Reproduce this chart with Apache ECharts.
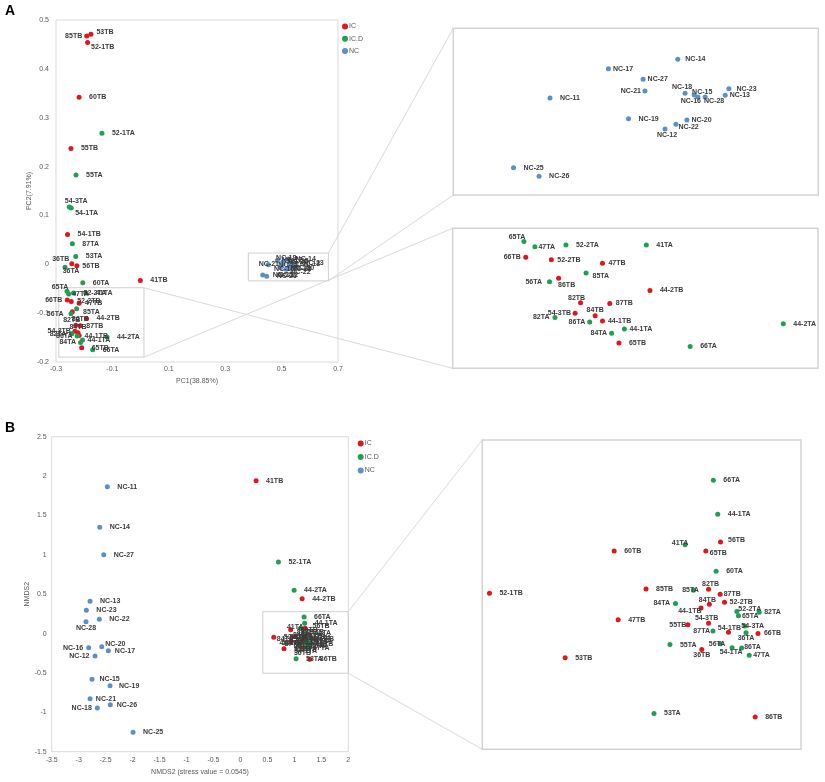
<!DOCTYPE html>
<html><head><meta charset="utf-8">
<script src="https://cdn.jsdelivr.net/npm/echarts@6/dist/echarts.min.js"></script>
<style>html,body{margin:0;padding:0;background:#fff}#c{width:825px;height:782px}</style>
</head><body><div id="c"></div>
<script>
// ---------------- DATA ----------------
const groups = ['IC', 'IC.D', 'NC'];

const icNames = ['85TB','53TB','52-1TB','60TB','55TB','54-1TB','36TB','56TB','41TB','66TB','52-2TB','47TB','86TB','44-2TB','82TB','87TB','54-3TB','84TB','44-1TB','65TB'];
const icPC1 = [-0.191,-0.176,-0.188,-0.218,-0.247,-0.259,-0.244,-0.226,-0.001,-0.260,-0.246,-0.218,-0.242,-0.192,-0.230,-0.214,-0.233,-0.222,-0.218,-0.209];
const icPC2 = [0.467,0.471,0.454,0.342,0.237,0.061,0.001,-0.003,-0.033,-0.073,-0.076,-0.080,-0.097,-0.111,-0.125,-0.126,-0.137,-0.140,-0.146,-0.171];
const icNMDS1 = [1.011,0.808,0.618,0.931,1.116,1.218,1.151,1.198,0.290,1.292,1.208,0.941,1.285,1.144,1.168,1.197,1.168,1.170,1.149,1.161];
const icNMDS2 = [-0.037,-0.193,-0.047,0.049,-0.118,-0.135,-0.174,0.069,1.941,-0.138,-0.067,-0.107,-0.327,0.443,-0.038,-0.049,-0.115,-0.072,-0.080,0.049];

const icdNames = ['52-1TA','55TA','54-3TA','54-1TA','87TA','53TA','36TA','60TA','65TA','47TA','52-2TA','41TA','85TA','56TA','82TA','86TA','44-2TA','44-1TA','84TA','66TA'];
const icdPC1 = [-0.137,-0.229,-0.253,-0.246,-0.242,-0.230,-0.268,-0.205,-0.261,-0.255,-0.238,-0.194,-0.227,-0.247,-0.244,-0.225,-0.119,-0.206,-0.213,-0.170];
const icdPC2 = [0.268,0.183,0.117,0.115,0.042,0.016,-0.006,-0.038,-0.055,-0.061,-0.059,-0.059,-0.091,-0.101,-0.142,-0.147,-0.149,-0.155,-0.160,-0.175];
const icdNMDS1 = [0.704,1.071,1.259,1.227,1.179,1.031,1.262,1.187,1.243,1.270,1.239,1.109,1.130,1.197,1.295,1.251,0.995,1.191,1.085,1.180];
const icdNMDS2 = [0.909,-0.163,-0.121,-0.170,-0.132,-0.319,-0.136,0.003,-0.098,-0.187,-0.088,0.063,-0.040,-0.161,-0.090,-0.171,0.550,0.132,-0.070,0.209];

const ncNames = ['NC-11','NC-12','NC-13','NC-14','NC-15','NC-16','NC-17','NC-18','NC-19','NC-20','NC-21','NC-22','NC-23','NC-25','NC-26','NC-27','NC-28'];
const ncPC1 = [0.453,0.516,0.549,0.523,0.532,0.534,0.485,0.527,0.496,0.528,0.505,0.522,0.551,0.433,0.447,0.504,0.538];
const ncPC2 = [-0.0009,-0.0102,-0.0001,0.0107,0.0000,-0.0006,0.0079,0.0005,-0.0071,-0.0075,0.0012,-0.0088,0.0019,-0.0218,-0.0244,0.0047,-0.0006];
const ncNMDS1 = [-2.468,-2.697,-2.789,-2.609,-2.752,-2.814,-2.450,-2.654,-2.418,-2.572,-2.789,-2.617,-2.858,-1.992,-2.413,-2.535,-2.864];
const ncNMDS2 = [1.865,-0.285,0.410,1.350,-0.581,-0.179,-0.218,-0.945,-0.662,-0.167,-0.827,0.181,0.295,-1.254,-0.903,1.002,0.151];

// axis ranges (value space)
const axisA = {x:[-0.3, 0.7, 0.2], y:[-0.2, 0.5, 0.1]};
const axisB = {x:[-3.5, 2, 0.5], y:[-1.5, 2.5, 0.5]};
const insetA_NC = {x:[0.4, 0.6], y:[-0.03, 0.02]};
const insetA_IC = {x:[-0.3, -0.1], y:[-0.2, -0.04]};
const insetB = {x:[0.6, 1.4], y:[-0.4, 0.3]};
// zoom boxes drawn in the main plots (value space corners)
const boxA_NC = [[0.382, 0.023], [0.666, -0.034]];
const boxA_IC = [[-0.290, -0.048], [0.012, -0.190]];
const boxB = [[0.415, 0.278], [2.0, -0.504]];

// ---------------- STYLE ----------------
const FONT = '"Liberation Sans", Arial, sans-serif';
const COLORS = {'IC':'#e0161f', 'IC.D':'#1f9f52', 'NC':'#5b8fc7'};
const placeA = {
  '85TB':{p:'left',d:2}, '53TB':{d:3,o:[0,-2]}, '52-1TB':{d:1,o:[0,4.5]},
  '54-3TA':{p:'top',d:0,o:[7,0]}, '54-1TA':{d:1.5,o:[0,4.5]}, '36TB':{p:'left',d:0,o:[0,-5]},
  '36TA':{p:'bottom',d:0,o:[6,-2.5]}, '56TB':{d:3},
  '65TA':{p:'top',d:0,o:[-7,2]}, '47TA':{d:1}, '66TB':{p:'left',d:2.5}, '52-2TB':{d:3.5},
  '47TB':{d:3.5}, '85TA':{d:4,o:[0,3]}, '56TA':{p:'left',d:5}, '86TB':{p:'bottom',d:0,o:[8,1]},
  '82TB':{p:'top',d:0,o:[-4,1]}, '87TB':{d:3.5}, '54-3TB':{p:'left',d:1.5}, '84TB':{p:'top',d:0},
  '82TA':{p:'left',d:3}, '86TA':{p:'left',d:2}, '44-1TB':{d:3}, '44-1TA':{d:2.5}, '84TA':{p:'left',d:2},
  'NC-14':{d:5}, 'NC-17':{d:2}, 'NC-27':{d:2}, 'NC-21':{p:'left',d:1.5}, 'NC-18':{p:'top',d:0,o:[-3,0]},
  'NC-15':{p:'top',d:0,o:[8,3]}, 'NC-16':{p:'bottom',d:0,o:[-7,-2]}, 'NC-28':{p:'bottom',d:0,o:[9,-2]},
  'NC-23':{d:5}, 'NC-13':{d:2}, 'NC-20':{d:2}, 'NC-22':{d:0,o:[0,3]}, 'NC-12':{p:'bottom',d:0,o:[2,0]}
};
const placeB = {
  '41TA':{p:'top',d:0,o:[-5,4]}, '56TB':{d:5,o:[0,-2]}, '65TB':{d:1.5,o:[0,2]}, '85TA':{p:'inside',o:[-3,0]},
  '82TB':{p:'top',d:0,o:[2,1]}, '87TB':{d:1}, '84TA':{p:'left',d:3}, '84TB':{p:'top',d:0,o:[-2,2]},
  '52-2TB':{d:2.5}, '44-1TB':{p:'left',d:-3,o:[0,3]}, '52-2TA':{d:-1,o:[0,-2]}, '82TA':{d:2.5},
  '65TA':{d:1}, '55TB':{p:'left',d:-1}, '54-3TB':{p:'top',d:0,o:[-2,1]}, '54-3TA':{d:-6},
  '87TA':{p:'left',d:0.5}, '54-1TB':{p:'top',d:0,o:[1,2]}, '36TA':{p:'bottom',d:0,o:[0,-1]},
  '66TB':{d:3.5}, '56TA':{p:'inside',o:[-3,0]}, '36TB':{p:'bottom',d:0}, '54-1TA':{p:'bottom',d:0,o:[-1,-2]},
  '86TA':{d:0,o:[0,-1]}, '47TA':{d:1.5},
  'NC-28':{p:'bottom',d:0}, 'NC-16':{p:'left',d:3}, 'NC-20':{d:1,o:[0,-3]}, 'NC-12':{p:'left',d:3},
  'NC-15':{d:5}, 'NC-21':{d:3.3}, 'NC-18':{p:'left',d:3}, 'NC-26':{d:4}, 'NC-19':{d:6.5}, 'NC-17':{d:4}
};

function pts(names, xs, ys, place) {
  return names.map((n, i) => {
    const pl = place[n] || {};
    return {name: n, value: [xs[i], ys[i]],
      label: {position: pl.p || 'right', distance: pl.d != null ? pl.d : 7.5, offset: pl.o || [0, 0]}};
  });
}
function scat(name, gi, data, extra) {
  return Object.assign({
    type: 'scatter', name: name, xAxisIndex: gi, yAxisIndex: gi, data: data, symbolSize: 5,
    itemStyle: {color: COLORS[name], opacity: 1},
    label: {show: true, formatter: '{b}', fontSize: 7, fontWeight: 'bold', color: '#3a3a3a', fontFamily: FONT},
    emphasis: {disabled: true}, clip: true, silent: true, animation: false
  }, extra || {});
}
const fmt = v => String(Math.round(v * 10) / 10);
function mainAxis(gi, r, name, gap, margin) {
  return {gridIndex: gi, type: 'value', min: r[0], max: r[1], interval: r[2],
    name: name, nameLocation: 'middle', nameGap: gap,
    nameTextStyle: {fontSize: 7, color: '#595959', fontFamily: FONT},
    axisLine: {show: false}, axisTick: {show: false}, splitLine: {show: false},
    axisLabel: {fontSize: 7, color: '#595959', margin: margin, fontFamily: FONT, formatter: fmt}};
}
function insetAxis(gi, r) {
  return {gridIndex: gi, type: 'value', min: r[0], max: r[1], show: false, splitLine: {show: false}};
}
const mainGrid = (l, t, w, h) => ({left: l, top: t, width: w, height: h, show: true, borderColor: '#d9d9d9', borderWidth: 1, backgroundColor: 'rgba(0,0,0,0)'});
const insetGrid = (l, t, w, h) => ({left: l, top: t, width: w, height: h, show: true, borderColor: '#d3d3d3', borderWidth: 1.5, backgroundColor: 'rgba(0,0,0,0)'});
const boxArea = (boxes) => ({markArea: {silent: true, label: {show: false},
  itemStyle: {color: 'rgba(0,0,0,0)', borderColor: '#cfcfcf', borderWidth: 1},
  data: boxes.map(b => [{coord: b[0]}, {coord: b[1]}])}});
const legendCfg = (l, t, gap) => ({data: groups, orient: 'vertical', left: l, top: t, padding: 0,
  icon: 'circle', itemWidth: 6, itemHeight: 6, itemGap: gap, selectedMode: false,
  textStyle: {fontSize: 7, color: '#595959', fontFamily: FONT, padding: [0, 0, 0, -4]}});

const chart = echarts.init(document.getElementById('c'));
chart.setOption({
  animation: false,
  backgroundColor: '#fff',
  grid: [
    mainGrid(56, 20, 282, 342),
    insetGrid(453.3, 28.3, 365, 166.7),
    insetGrid(452.7, 228.3, 365.3, 140),
    mainGrid(51.7, 436.7, 296.6, 315),
    insetGrid(482.3, 440, 318.7, 309.3)
  ],
  xAxis: [
    mainAxis(0, axisA.x, 'PC1(38.85%)', 16, 4),
    insetAxis(1, insetA_NC.x), insetAxis(2, insetA_IC.x),
    mainAxis(3, axisB.x, 'NMDS2 (stress value = 0.0545)', 16.5, 5),
    insetAxis(4, insetB.x)
  ],
  yAxis: [
    mainAxis(0, axisA.y, 'PC2(7.91%)', 20.5, 7),
    insetAxis(1, insetA_NC.y), insetAxis(2, insetA_IC.y),
    mainAxis(3, axisB.y, 'NMDS2', 21.5, 5),
    insetAxis(4, insetB.y)
  ],
  legend: [legendCfg(342, 23, 5.3), legendCfg(357.7, 440, 6.5)],
  series: [
    scat('IC', 0, pts(icNames, icPC1, icPC2, placeA), boxArea([boxA_NC, boxA_IC])),
    scat('IC.D', 0, pts(icdNames, icdPC1, icdPC2, placeA)),
    scat('NC', 0, pts(ncNames, ncPC1, ncPC2, placeA)),
    scat('NC', 1, pts(ncNames, ncPC1, ncPC2, placeA)),
    scat('IC', 2, pts(icNames, icPC1, icPC2, placeA)),
    scat('IC.D', 2, pts(icdNames, icdPC1, icdPC2, placeA)),
    scat('IC', 3, pts(icNames, icNMDS1, icNMDS2, placeB), boxArea([boxB])),
    scat('IC.D', 3, pts(icdNames, icdNMDS1, icdNMDS2, placeB)),
    scat('NC', 3, pts(ncNames, ncNMDS1, ncNMDS2, placeB)),
    scat('IC', 4, pts(icNames, icNMDS1, icNMDS2, placeB)),
    scat('IC.D', 4, pts(icdNames, icdNMDS1, icdNMDS2, placeB))
  ]
});

// connector lines between zoom boxes and insets
const P = (g, v) => chart.convertToPixel({gridIndex: g}, v);
const links = [
  [0, [boxA_NC[1][0], boxA_NC[0][1]], 1, [insetA_NC.x[0], insetA_NC.y[1]]],
  [0, [boxA_NC[1][0], boxA_NC[1][1]], 1, [insetA_NC.x[0], insetA_NC.y[0]]],
  [0, [boxA_IC[1][0], boxA_IC[0][1]], 2, [insetA_IC.x[0], insetA_IC.y[0]]],
  [0, [boxA_IC[1][0], boxA_IC[1][1]], 2, [insetA_IC.x[0], insetA_IC.y[1]]],
  [3, [boxB[1][0], boxB[0][1]], 4, [insetB.x[0], insetB.y[1]]],
  [3, [boxB[1][0], boxB[1][1]], 4, [insetB.x[0], insetB.y[0]]]
];
const els = links.map(l => {
  const a = P(l[0], l[1]), b = P(l[2], l[3]);
  return {type: 'line', silent: true, z: -1,
    shape: {x1: a[0], y1: a[1], x2: b[0], y2: b[1]},
    style: {stroke: '#dadada', lineWidth: 1}};
});
els.push({type: 'text', left: 5, top: 4, style: {text: 'A', font: 'bold 14px ' + FONT, fill: '#000'}});
els.push({type: 'text', left: 5, top: 421, style: {text: 'B', font: 'bold 14px ' + FONT, fill: '#000'}});
chart.setOption({graphic: {elements: els}});
</script>
</body></html>
